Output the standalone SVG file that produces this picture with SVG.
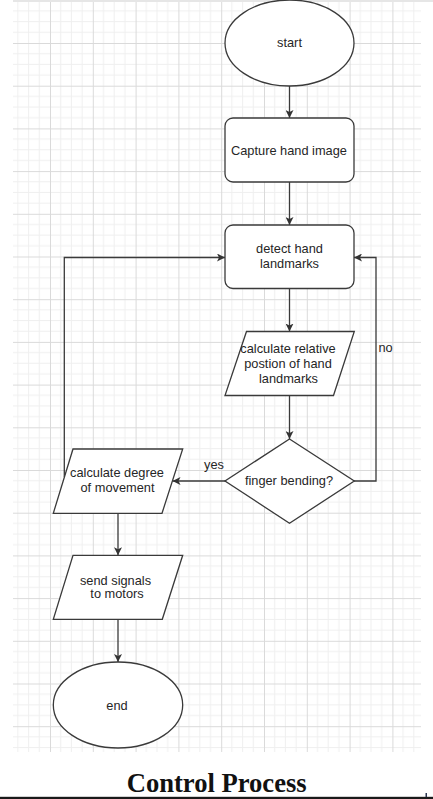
<svg xmlns="http://www.w3.org/2000/svg" width="433" height="799" viewBox="0 0 433 799">
<defs>
<pattern id="grid" x="7.2" y="0.3" width="42.8" height="42.7" patternUnits="userSpaceOnUse">
<path d="M10.7 0V42.7M21.4 0V42.7M32.1 0V42.7M0 10.7H42.8M0 21.35H42.8M0 32H42.8" stroke="#efefef" stroke-width="1" fill="none"/>
<path d="M0.5 0V42.7M0 0.5H42.8" stroke="#dadada" stroke-width="1" fill="none"/>
</pattern>
<marker id="arr" viewBox="0 0 10 10" refX="10" refY="5" markerWidth="8" markerHeight="8" markerUnits="userSpaceOnUse" orient="auto">
<path d="M0 0L10 5L0 10L2.5 5Z" fill="#333"/>
</marker>
<style>
.shape{fill:#fff;stroke:#3a3a3a;stroke-width:1.3}
.edge{fill:none;stroke:#3a3a3a;stroke-width:1.3;marker-end:url(#arr)}
.line{fill:none;stroke:#3a3a3a;stroke-width:1.3}
.t{font-family:"Liberation Sans",Arial,sans-serif;font-size:12.8px;fill:#262626;text-anchor:middle}
.lbl{font-family:"Liberation Sans",Arial,sans-serif;font-size:12.8px;fill:#262626}
.title{font-family:"Liberation Serif","Times New Roman",serif;font-size:27px;font-weight:bold;fill:#111;text-anchor:middle}
</style>
</defs>
<rect width="433" height="799" fill="#fff"/>
<rect x="13" y="0" width="408" height="752" fill="url(#grid)"/>
<rect x="13" y="0" width="420" height="2" fill="#e6e6e6"/>

<g id="connectors">
<path class="edge" d="M289.5 86V118"/>
<path class="edge" d="M289.5 182V225"/>
<path class="edge" d="M289.5 288.5V331.5"/>
<path class="edge" d="M289.5 395.5V439"/>
<path class="edge" d="M225 481H172.5"/>
<path class="edge" d="M354 481H376V257.5H354"/>
<path class="edge" d="M64.3 477V257.5H225"/>
<path class="edge" d="M118 513.3V555.3"/>
<path class="edge" d="M118 619.3V662"/>
<text class="lbl" x="204" y="468.5">yes</text>
<text class="lbl" x="378.5" y="352">no</text>
</g>

<g id="start">
<ellipse class="shape" cx="289.5" cy="43" rx="64.5" ry="43"/>
<text class="t" x="289.5" y="47.3">start</text>
</g>
<g id="capture">
<rect class="shape" x="225" y="118" width="129" height="64" rx="8"/>
<text class="t" x="289" y="155">Capture hand image</text>
</g>
<g id="detect">
<rect class="shape" x="225" y="225" width="129" height="63.5" rx="8"/>
<text class="t" x="289.5" y="253.3">detect hand</text>
<text class="t" x="289.5" y="267.5">landmarks</text>
</g>
<g id="relative">
<polygon class="shape" points="246.5,331.5 354.3,331.5 333.5,395.5 225,395.5"/>
<text class="t" x="288" y="353">calculate relative</text>
<text class="t" x="288" y="368.3">postion of hand</text>
<text class="t" x="288.5" y="382.7">landmarks</text>
</g>
<g id="decision">
<polygon class="shape" points="289.5,439 354.3,481 289.5,523.3 225,481"/>
<text class="t" x="289" y="485">finger bending?</text>
</g>
<g id="degree">
<polygon class="shape" points="73,449 182.7,449 162,513.3 53.3,513.3"/>
<text class="t" x="117" y="477">calculate degree</text>
<text class="t" x="117.5" y="492">of movement</text>
</g>
<g id="signals">
<polygon class="shape" points="73,555.3 182.7,555.3 162.3,619.3 53.3,619.3"/>
<text class="t" x="115.5" y="584.7">send signals</text>
<text class="t" x="117" y="598.3">to motors</text>
</g>
<g id="end">
<ellipse class="shape" cx="118" cy="705" rx="64.7" ry="43"/>
<text class="t" x="117" y="709.7">end</text>
</g>

<text class="title" x="216.7" y="792.3" textLength="180" lengthAdjust="spacingAndGlyphs">Control Process</text>
<rect x="0" y="796.8" width="433" height="2.2" fill="#1a1a1a"/>
<rect x="425.5" y="793" width="1.5" height="4" fill="#2a3550"/>
</svg>
